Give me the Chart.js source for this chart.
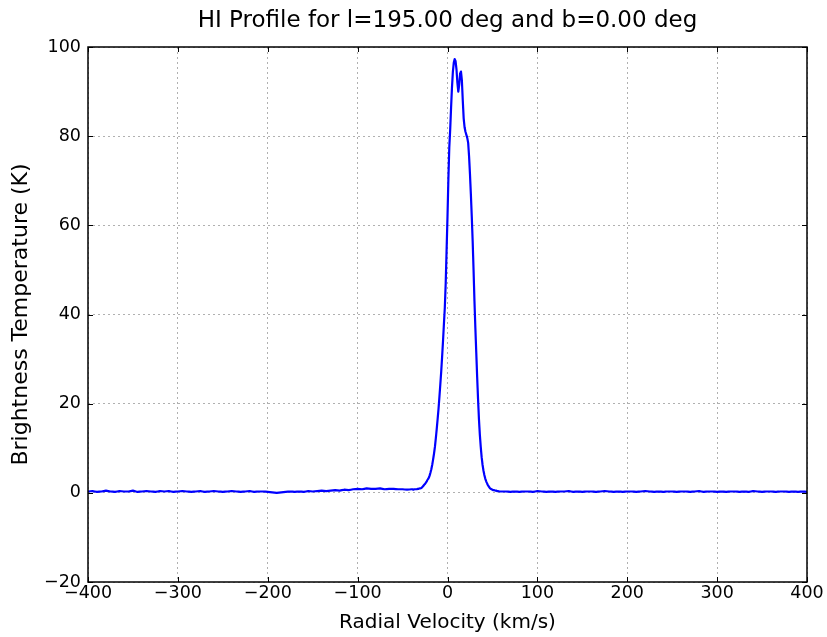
<!DOCTYPE html>
<html>
<head>
<meta charset="utf-8">
<script src="https://cdn.jsdelivr.net/npm/chart.js@4"></script>
<style>
  html, body { margin: 0; padding: 0; background: #ffffff; }
  #c { display: block; }
</style>
</head>
<body>
<canvas id="c" width="827" height="637"></canvas>
<script>
const chartTitle = 'HI Profile for l=195.00 deg and b=0.00 deg';
const xTitle = 'Radial Velocity (km/s)';
const yTitle = 'Brightness Temperature (K)';

const xTickValues = [-400, -300, -200, -100, 0, 100, 200, 300, 400];
const yTickValues = [-20, 0, 20, 40, 60, 80, 100];

const velocity = [
  -400,-395,-390,-385,-380,-375,-370,-365,-360,-355,-350,-345,-340,-335,-330,-325,-320,-315,-310,-305,
  -300,-295,-290,-285,-280,-275,-270,-265,-260,-255,-250,-245,-240,-235,-230,-225,-220,-215,-210,-205,
  -200,-195,-190,-185,-180,-175,-170,-165,-160,-155,-150,-145,-140,-135,-130,-125,-120,-115,-110,-105,
  -100,-95,-90,-85,-80,-75,-70,-65,-60,-55,-50,-45,-40,
  -39,-38,-37,-36,
  -35,-34,-33,-32,-31,-30,-29,-28,-27,-26,-25,-24,-23,-22,-21,-20,-19,-18,-17,-16,
  -15,-14,-13,-12,-11,-10,-9,-8,-7,-6,-5,-4,-3,-2,-1,
  0,1,2,3,4,5,6,7,8,9,10,11,12,13,14,15,16,17,18,19,
  20,21,22,23,24,25,26,27,28,29,30,31,32,33,34,35,36,37,38,39,
  40,41,42,43,44,45,46,47,48,49,50,51,52,53,54,55,56,58,60,
  65,70,75,80,85,90,95,100,105,110,
  115,120,125,130,135,140,145,150,155,160,
  165,170,175,180,185,190,195,200,205,210,
  215,220,225,230,235,240,245,250,255,260,
  265,270,275,280,285,290,295,300,305,310,
  315,320,325,330,335,340,345,350,355,360,
  365,370,375,380,385,390,395,400
];

const temperature = [
  0.3,0.4,0.2,0.3,0.5,0.3,0.2,0.4,0.3,0.3,0.5,0.2,0.3,0.4,0.3,0.2,0.4,0.3,0.4,0.2,
  0.3,0.4,0.3,0.2,0.3,0.4,0.2,0.3,0.4,0.3,0.2,0.3,0.4,0.3,0.2,0.3,0.4,0.2,0.3,0.3,
  0.2,0.1,0.0,0.1,0.2,0.3,0.2,0.3,0.2,0.4,0.3,0.4,0.5,0.4,0.5,0.6,0.5,0.7,0.6,0.8,
  0.9,0.8,1.0,0.9,0.9,1.0,0.8,0.9,0.9,0.8,0.8,0.7,0.8,
  0.8,0.7,0.8,0.8,
  0.8,0.8,0.9,0.9,1.0,1.0,1.1,1.3,1.5,1.8,2.0,2.3,2.6,3.0,3.3,3.8,4.5,5.3,6.3,7.5,
  8.8,10.3,12.2,14.3,16.5,18.8,21.5,24.3,27.2,30.5,34.0,37.8,41.5,47.0,54.5,
  62.0,70.5,77.5,81.5,86.5,91.0,94.5,96.5,97.3,96.8,95.0,92.0,90.0,91.5,94.0,94.5,92.5,88.0,84.0,82.0,
  81.0,80.3,79.6,78.5,75.5,71.5,67.0,62.0,56.5,50.0,43.0,37.0,31.5,26.0,21.0,16.5,13.0,10.3,8.0,6.3,
  5.0,4.0,3.2,2.6,2.1,1.7,1.4,1.1,0.9,0.8,0.7,0.6,0.6,0.5,0.5,0.4,0.4,0.3,0.3,
  0.3,0.2,0.3,0.2,0.3,0.3,0.2,0.4,0.3,0.2,
  0.3,0.2,0.3,0.3,0.4,0.2,0.3,0.2,0.3,0.3,
  0.2,0.3,0.4,0.3,0.2,0.3,0.2,0.3,0.3,0.2,
  0.3,0.4,0.3,0.2,0.3,0.2,0.3,0.3,0.2,0.3,
  0.3,0.2,0.3,0.4,0.2,0.3,0.3,0.2,0.3,0.2,
  0.3,0.3,0.2,0.3,0.2,0.4,0.3,0.2,0.3,0.3,
  0.2,0.3,0.3,0.2,0.3,0.2,0.3,0.2
];

const points = velocity.map((v, i) => ({ x: v, y: temperature[i] }));

const FONT = "'DejaVu Sans', 'Liberation Sans', sans-serif";
const fmt = v => (v < 0 ? '\u2212' + Math.abs(v) : String(v));

const framePlugin = {
  id: 'frame',
  afterDraw(chart) {
    const { ctx, chartArea: a, scales } = chart;
    const xs = scales.x, ys = scales.y;
    ctx.save();
    ctx.strokeStyle = '#000';
    ctx.lineWidth = 1;
    ctx.beginPath();
    xs.ticks.forEach(t => {
      const px = Math.round(xs.getPixelForValue(t.value)) + 0.5;
      ctx.moveTo(px, a.bottom); ctx.lineTo(px, a.bottom - 5);
      ctx.moveTo(px, a.top); ctx.lineTo(px, a.top + 5);
    });
    ys.ticks.forEach(t => {
      const py = Math.round(ys.getPixelForValue(t.value)) + 0.5;
      ctx.moveTo(a.left, py); ctx.lineTo(a.left + 5, py);
      ctx.moveTo(a.right, py); ctx.lineTo(a.right - 5, py);
    });
    ctx.stroke();
    ctx.lineWidth = 1.5;
    ctx.strokeRect(a.left, a.top, a.right - a.left, a.bottom - a.top);
    ctx.restore();
  }
};

new Chart(document.getElementById('c'), {
  type: 'line',
  data: {
    datasets: [{
      data: points,
      borderColor: '#0000ff',
      borderWidth: 2.2,
      pointRadius: 0,
      tension: 0.00001,
      fill: false,
      borderJoinStyle: 'round',
      borderCapStyle: 'round'
    }]
  },
  options: {
    responsive: false,
    devicePixelRatio: 1,
    animation: false,
    layout: { padding: { left: 0, right: 20, top: 0, bottom: 0 } },
    plugins: {
      legend: { display: false },
      tooltip: { enabled: false },
      title: {
        display: true,
        text: chartTitle,
        fullSize: false,
        color: '#000',
        font: { family: FONT, size: 23, weight: 'normal', lineHeight: 1.2 },
        padding: { top: 7, bottom: 12.4 }
      }
    },
    scales: {
      x: {
        type: 'linear',
        min: -400, max: 400,
        afterBuildTicks: s => { s.ticks = xTickValues.map(v => ({ value: v })); },
        afterFit: s => { s.height = 55; },
        ticks: {
          color: '#000',
          font: { family: FONT, size: 17.5 },
          padding: 1,
          maxRotation: 0,
          callback: v => fmt(v)
        },
        grid: { color: '#b0b0b0', lineWidth: 1, drawTicks: false },
        border: { display: false, dash: [2, 3] },
        title: {
          display: true,
          text: xTitle,
          color: '#000',
          font: { family: FONT, size: 20 },
          padding: { top: 2, bottom: 2 }
        }
      },
      y: {
        type: 'linear',
        min: -20, max: 100,
        afterBuildTicks: s => { s.ticks = yTickValues.map(v => ({ value: v })); },
        afterFit: s => { s.width = 88; },
        ticks: {
          color: '#000',
          font: { family: FONT, size: 17.5 },
          padding: 7,
          callback: v => fmt(v)
        },
        grid: { color: '#b0b0b0', lineWidth: 1, drawTicks: false },
        border: { display: false, dash: [2, 3] },
        title: {
          display: true,
          text: yTitle,
          color: '#000',
          font: { family: FONT, size: 22 },
          padding: { top: 8, bottom: 0 }
        }
      }
    }
  },
  plugins: [framePlugin]
});
</script>
</body>
</html>
